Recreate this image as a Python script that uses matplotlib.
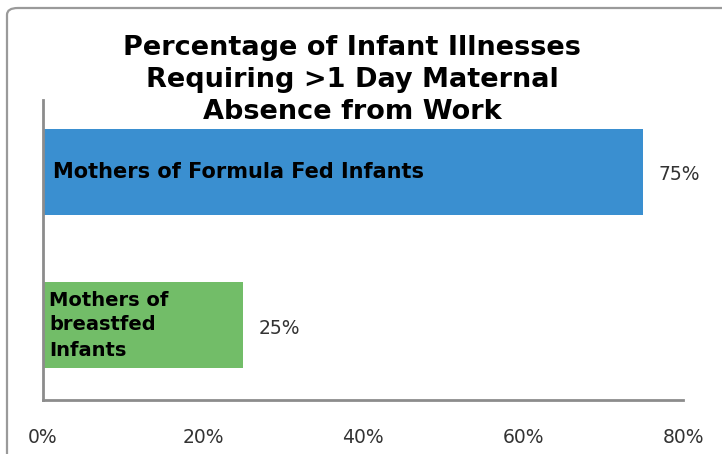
import matplotlib
matplotlib.use("Agg")
import matplotlib.pyplot as plt
from matplotlib.patches import FancyBboxPatch
from matplotlib.ticker import FuncFormatter

plt.rcParams["font.family"] = ["DejaVu Sans"]

categories = ["Mothers of\nbreastfed\nInfants", "Mothers of Formula Fed Infants"]
values = [0.25, 0.75]
value_labels = ["25%", "75%"]
colors = ["#72BD68", "#3A8FD0"]
xticks = [0.0, 0.2, 0.4, 0.6, 0.8]
title = "Percentage of Infant Illnesses\nRequiring >1 Day Maternal\nAbsence from Work"

W, H = 722, 454
fig = plt.figure(figsize=(W / 100, H / 100), dpi=100)
fig.patch.set_facecolor("white")

# outer rounded border
border = FancyBboxPatch((7 / W, -0.2), 1.2, 1 - 8 / H + 0.2,
                        boxstyle="round,pad=0,rounding_size=0.015",
                        transform=fig.transFigure, fill=False,
                        edgecolor="#9a9a9a", linewidth=1.6, clip_on=False)
fig.patches.append(border)

ax = fig.add_axes([43 / W, 1 - 400 / H, (683 - 43) / W, 300 / H])
ypos = list(range(len(categories)))
ax.barh(ypos, values, height=0.56, color=colors, edgecolor="none")
ax.set_xlim(0, 0.8)
ax.set_ylim(-0.49, 1.47)
ax.set_yticks([])
ax.set_xticks(xticks)
ax.xaxis.set_major_formatter(FuncFormatter(lambda v, p: f"{v*100:.0f}%"))
ax.tick_params(axis="x", length=0, pad=20.5, labelsize=13.5, labelcolor="#333333")
for s in ["top", "right"]:
    ax.spines[s].set_visible(False)
for s in ["left", "bottom"]:
    ax.spines[s].set_color("#8c8c8c")
    ax.spines[s].set_linewidth(2)

# category labels inside bars
ax.text(0.013, ypos[1], categories[1], ha="left", va="center",
        fontsize=15, fontweight="bold", color="black")
ax.text(0.008, ypos[0], categories[0], ha="left", va="center",
        fontsize=14, fontweight="bold", color="black", linespacing=1.4)

# value labels
for y, v, lab in zip(ypos, values, value_labels):
    ax.text(v + 0.019, y - 0.02, lab, ha="left", va="center",
            fontsize=13.5, color="#333333")

fig.text(352 / W, 1 - 80 / H, title, ha="center", va="center",
         fontsize=19.5, fontweight="bold", color="black", linespacing=1.32)

fig.savefig("out.png", dpi=100, facecolor="white")
